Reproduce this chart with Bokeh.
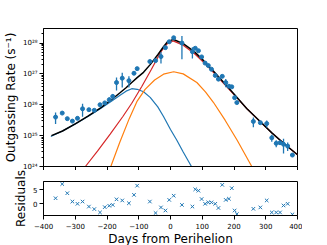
import numpy as np
from bokeh.plotting import figure
from bokeh.layouts import column
from bokeh.models import FixedTicker, CustomJSTickFormatter
from bokeh.embed import file_html
from bokeh.resources import INLINE

# ---------------- data ----------------
days = [-362, -341, -325, -309, -293, -277, -257, -240, -222, -207, -193, -182,
        -170, -152, -131, -115, -105, -65, -47, -30, -16, -4, 10, 36, 69, 78, 88,
        98, 109, 119, 129, 141, 151, 163, 174, 184, 193, 202, 209, 261, 283, 303,
        319, 333, 345, 356, 369, 384]
log_rate = [25.6, 25.73, 25.55, 25.47, 25.56, 25.87, 25.84, 25.82, 26.0, 26.06,
            26.16, 26.27, 26.72, 26.86, 26.78, 27.02, 27.17, 27.4, 27.43, 27.56,
            27.85, 28.04, 28.17, 28.0, 27.72, 27.83, 27.75, 27.55, 27.35, 27.27,
            27.15, 26.95, 26.83, 26.92, 26.72, 26.6, 26.58, 26.23, 26.07, 25.46,
            25.42, 25.39, 24.93, 24.75, 24.77, 24.72, 24.66, 24.37]
rel_err = [0.4, 0.05, 0.05, 0.05, 0.12, 0.45, 0.05, 0.05, 0.05, 0.05, 0.2, 0.2,
           0.45, 0.5, 0.4, 0.05, 0.05, 0.05, 0.05, 0.4, 0.05, 0.05, 0.05, 0.7,
           0.4, 0.05, 0.05, 0.05, 0.05, 0.05, 0.05, 0.05, 0.05, 0.05, 0.3, 0.05,
           0.05, 0.05, 0.05, 0.35, 0.05, 0.25, 0.25, 0.25, 0.05, 0.5, 0.3, 0.05]
residuals = [1.9, 7.0, 3.7, 0.7, -0.1, 0.7, -1.1, -2.0, -3.2, -1.3, -0.8, -0.5,
             1.5, 1.1, 0.1, 3.1, 6.4, 0.7, -3.4, -1.4, -2.5, 1.3, 2.8, -0.5, -1.1,
             5.1, 4.6, 1.6, -0.1, 0.4, 0.4, -0.1, -1.6, 6.7, 1.3, 1.7, 5.5, -2.5,
             -3.8, -1.9, -1.4, 1.1, -3.2, -3.2, -3.2, -0.7, -0.1, -3.9]

# model components (day, log10 rate)
blue_days = [-377, -340, -300, -260, -220, -185, -160, -140, -122, -105, -85, -64,
             -40, -22, 0, 20, 40, 66]
blue_log = [24.97, 25.15, 25.38, 25.62, 25.88, 26.12, 26.3, 26.44, 26.52, 26.5,
            26.42, 26.24, 25.93, 25.62, 25.2, 24.85, 24.47, 24.0]
red_days = [-268, -230, -190, -150, -122, -90, -60, -30, -10, 8, 40, 75, 105,
            135, 165, 200, 240, 280, 320, 360, 400]
red_log = [24.0, 24.5, 25.05, 25.62, 26.05, 26.6, 27.15, 27.72, 27.98, 28.07,
           27.93, 27.66, 27.37, 27.05, 26.72, 26.33, 25.88, 25.48, 25.08, 24.72, 24.38]
orange_days = [-188, -160, -130, -106, -80, -50, -22, 10, 40, 83, 110, 135, 172,
               210, 256]
orange_log = [24.0, 24.78, 25.55, 26.1, 26.5, 26.8, 26.99, 27.07, 27.0, 26.72,
              26.42, 26.08, 25.5, 24.85, 24.0]
total_days = [-375, -340, -300, -260, -220, -185, -160, -140, -122, -105, -85,
              -64, -40, -22, -10, 8, 40, 75, 105, 135, 165, 200, 240, 280, 320,
              360, 400]
total_log = [25.0, 25.15, 25.38, 25.63, 25.9, 26.17, 26.38, 26.55, 26.72, 26.88,
             27.05, 27.3, 27.62, 27.88, 28.03, 28.12, 27.98, 27.72, 27.42, 27.09,
             26.75, 26.35, 25.88, 25.48, 25.08, 24.72, 24.38]

x_ticks = [-400, -300, -200, -100, 0, 100, 200, 300, 400]
y_ticks = [1e24, 1e25, 1e26, 1e27, 1e28]
res_ticks = [0, 5]

# ---------------- styling helpers ----------------
FONT = "DejaVu Sans"
BLUE = "#1f77b4"
ORANGE = "#ff7f0e"
RED = "#d62728"

def style_axes(p):
    p.outline_line_color = "black"
    p.outline_line_width = 1
    p.background_fill_color = "white"
    p.border_fill_color = "white"
    p.grid.visible = False
    for ax in p.axis:
        ax.major_tick_out = 4
        ax.major_tick_in = 0
        ax.minor_tick_out = 2
        ax.minor_tick_in = 0
        ax.axis_line_color = "black"
        ax.major_tick_line_color = "black"
        ax.minor_tick_line_color = "black"
        ax.major_label_text_font = FONT
        ax.major_label_text_font_size = "7px"
        ax.major_label_text_color = "black"
        ax.major_label_standoff = 2
        ax.axis_label_text_font = FONT
        ax.axis_label_text_font_size = "12px"
        ax.axis_label_text_font_style = "normal"
        ax.axis_label_text_color = "black"
        ax.axis_label_standoff = 2

minus_fmt = CustomJSTickFormatter(code="""
    return tick < 0 ? '\\u2212' + Math.abs(tick) : String(tick);
""")
blank_fmt = CustomJSTickFormatter(code="return '';")
pow_fmt = CustomJSTickFormatter(code="""
    const sup = {'0':'\\u2070','1':'\\u00b9','2':'\\u00b2','3':'\\u00b3','4':'\\u2074',
                 '5':'\\u2075','6':'\\u2076','7':'\\u2077','8':'\\u2078','9':'\\u2079','-':'\\u207b'};
    const e = Math.round(Math.log10(tick));
    return '10' + String(e).split('').map(c => sup[c]).join('');
""")

# ---------------- main panel ----------------
p1 = figure(frame_width=254, frame_height=138, x_range=(-400, 400),
            y_range=(1e24, 2.95e28), y_axis_type="log",
            output_backend="svg", toolbar_location=None,
            min_border_left=32, min_border_right=16, min_border_top=28,
            min_border_bottom=0)
style_axes(p1)
p1.xaxis.ticker = FixedTicker(ticks=x_ticks, minor_ticks=[])
p1.xaxis.formatter = blank_fmt
p1.xaxis.major_label_standoff = 0
p1.yaxis.ticker = FixedTicker(ticks=y_ticks,
                              minor_ticks=[k * 10.0 ** e for e in range(24, 29) for k in range(2, 10)])
p1.yaxis.formatter = pow_fmt
p1.yaxis.axis_label = "Outgassing Rate (s\u207b\u00b9)"

p1.line(blue_days, [10 ** v for v in blue_log], color=BLUE, line_width=1.2)
p1.line(orange_days, [10 ** v for v in orange_log], color=ORANGE, line_width=1.2)
p1.line(red_days, [10 ** v for v in red_log], color=RED, line_width=1.2)
p1.line(total_days, [10 ** v for v in total_log], color="black", line_width=1.5)

rate = np.array([10 ** v for v in log_rate])
err = rate * np.array(rel_err)
p1.segment(x0=days, y0=rate - err, x1=days, y1=rate + err, color=BLUE, line_width=1.3)
p1.scatter(days, rate, size=4, color=BLUE)

# ---------------- residual panel ----------------
p2 = figure(frame_width=254, frame_height=34, x_range=p1.x_range, y_range=(-4.3, 7.9),
            output_backend="svg", toolbar_location=None,
            min_border_left=32, min_border_right=16, min_border_top=11,
            min_border_bottom=0)
style_axes(p2)
p2.xaxis.ticker = FixedTicker(ticks=x_ticks, minor_ticks=[])
p2.xaxis.formatter = minus_fmt
p2.xaxis.major_label_standoff = 3
p2.xaxis.axis_label_standoff = 0
p2.yaxis.ticker = FixedTicker(ticks=res_ticks, minor_ticks=[])
p2.xaxis.axis_label = "Days from Perihelion"
p2.yaxis.axis_label = "Residuals"
p2.scatter(days, residuals, marker="x", size=5, color=BLUE, line_width=1)

layout = column(p1, p2, spacing=0)
open("out.html", "w").write(file_html(layout, INLINE))
